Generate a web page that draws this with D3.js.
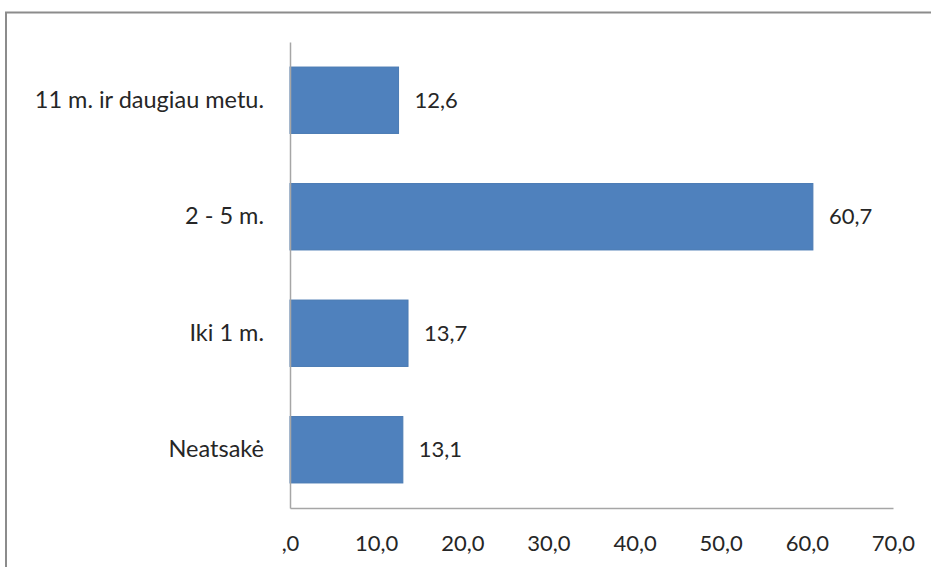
<!DOCTYPE html>
<html>
<head>
<meta charset="utf-8">
<script src="https://cdn.jsdelivr.net/npm/d3@7"></script>
<style>
  html, body { margin: 0; padding: 0; background: #fff; }
  svg { display: block; }
  text { font-family: Lato, "Open Sans", sans-serif; fill: #262626; }
</style>
</head>
<body>
<svg id="chart" width="931" height="567"></svg>
<script>
// Categories, top to bottom
const categories = ["11 m. ir daugiau metu.", "2 - 5 m.", "Iki 1 m.", "Neatsakė"];
const values = [12.6, 60.7, 13.7, 13.1];
const tickValues = [0, 10, 20, 30, 40, 50, 60, 70];

const fmt = v => (v === 0 ? ",0" : d3.format(".1f")(v).replace(".", ","));

const svg = d3.select("#chart");
const W = 931, H = 567;
const plot = { left: 290, right: 893, top: 42, bottom: 508 };
const font = "Lato, 'Open Sans', sans-serif";

// Outer frame (top and left edges visible)
svg.append("path")
  .attr("d", `M6,${H} L6,12.5 L${W},12.5`)
  .attr("fill", "none")
  .attr("stroke", "#8c8c8c")
  .attr("stroke-width", 2);

const x = d3.scaleLinear().domain([0, 70]).range([plot.left, plot.right]);
const y = d3.scaleBand().domain(categories).range([plot.top, plot.bottom]).paddingInner(0.43).paddingOuter(0.215);

// Bars
svg.append("g").selectAll("rect")
  .data(categories)
  .join("rect")
  .attr("x", x(0))
  .attr("y", d => y(d))
  .attr("width", (d, i) => x(values[i]) - x(0))
  .attr("height", y.bandwidth())
  .attr("fill", "#4f81bd")
  .attr("stroke", "#4a7ab3")
  .attr("stroke-width", 1);

// Value labels
svg.append("g").selectAll("text")
  .data(categories)
  .join("text")
  .attr("x", (d, i) => x(values[i]) + 16)
  .attr("y", d => y(d) + y.bandwidth() / 2)
  .attr("dy", "0.35em")
  .attr("font-size", 22)
  .text((d, i) => fmt(values[i]));

// X axis
const xAxis = svg.append("g")
  .attr("transform", `translate(0,${plot.bottom})`)
  .call(d3.axisBottom(x).tickValues(tickValues).tickFormat(fmt).tickSize(0).tickPadding(27));
xAxis.select(".domain").attr("stroke", "#a6a6a6").attr("stroke-width", 1.5);
xAxis.selectAll("text").attr("font-size", 22).attr("fill", "#262626").style("font-family", font);

// Y axis
const yAxis = svg.append("g")
  .attr("transform", `translate(${plot.left},0)`)
  .call(d3.axisLeft(y).tickSize(0).tickPadding(26));
yAxis.select(".domain").attr("stroke", "#a6a6a6").attr("stroke-width", 1.5);
yAxis.selectAll("text").attr("font-size", 23.5).attr("fill", "#262626").style("font-family", font);
</script>
</body>
</html>
